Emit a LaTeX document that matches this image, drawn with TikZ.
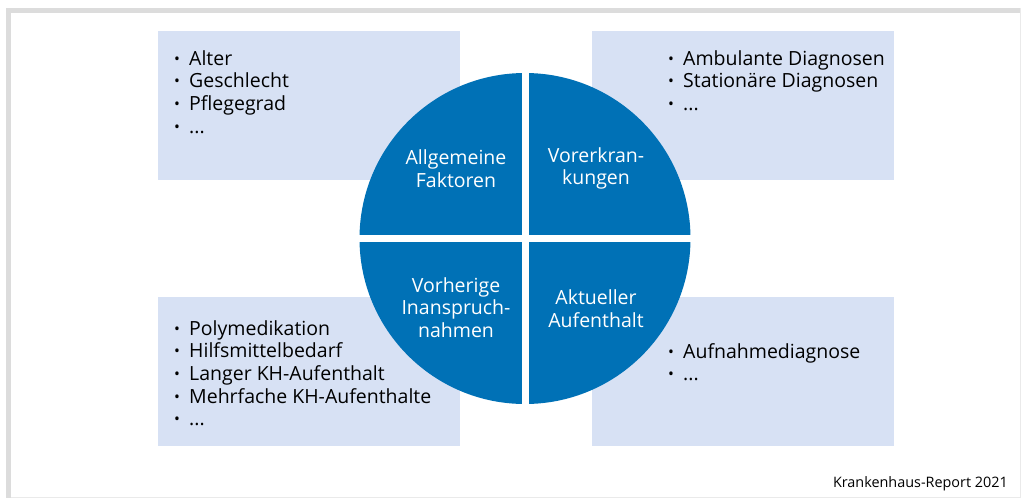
\documentclass[tikz,border=0pt]{standalone}
\usepackage{fontspec}
\setmainfont{Open Sans}
\usetikzlibrary{positioning}

\definecolor{kreisblau}{HTML}{0071B6}
\definecolor{kastenblau}{HTML}{D7E1F4}
\definecolor{rahmengrau}{HTML}{DCDCDC}

\tikzset{
  kasten/.style={fill=kastenblau, minimum width=302pt, minimum height=149pt,
                 anchor=north west, inner sep=0pt},
  liste/.style={align=left, anchor=north west, inner sep=0pt,
                font=\fontsize{19.5}{22.7}\selectfont},
  feld/.style={align=center, text=white, inner sep=0pt,
               font=\fontsize{19.5}{22.5}\selectfont},
}
\newcommand{\pkt}[1]{\makebox[15pt][l]{\raisebox{1pt}{\scalebox{0.8}{\textbullet}}}#1}

\begin{document}
\begin{tikzpicture}[x=1pt, y=-1pt]
  \useasboundingbox (0,0) rectangle (1022,499);

  % rahmen
  \draw[rahmengrau!60, line width=1pt] (6,8) rectangle (1020,497.5);
  \fill[rahmengrau] (6,8) rectangle (1020,13);
  \fill[rahmengrau] (6,8) rectangle (11,497.5);

  % kaesten
  \node[kasten] (allg) at (158,31) {};
  \node[kasten] (vor)  at (592,31) {};
  \node[kasten] (inan) at (158,297) {};
  \node[kasten] (akt)  at (592,297) {};

  \node[liste, below right=19pt and 16pt of allg.north west] (allgliste)
       {\pkt{Alter}\\ \pkt{Geschlecht}\\ \pkt{Pflegegrad}\\ \pkt{...}};
  \node[liste, below right=19pt and 76pt of vor.north west] (vorliste)
       {\pkt{Ambulante Diagnosen}\\ \pkt{Stationäre Diagnosen}\\ \pkt{...}};
  \node[liste, below right=23pt and 16pt of inan.north west] (inanliste)
       {\pkt{Polymedikation}\\ \pkt{Hilfsmittelbedarf}\\ \pkt{Langer KH-Aufenthalt}\\
        \pkt{Mehrfache KH-Aufenthalte}\\ \pkt{...}};
  \node[liste, below right=46pt and 76pt of akt.north west] (aktliste)
       {\pkt{Aufnahmediagnose}\\ \pkt{...}};

  % kreis mit vier feldern
  \coordinate (mitte) at (525,238.5);
  \fill[kreisblau] (mitte) circle[radius=165.5];
  \draw[white, line width=7pt] ([yshift=-170pt]mitte) -- ([yshift=170pt]mitte);
  \draw[white, line width=7pt] ([xshift=-170pt]mitte) -- ([xshift=170pt]mitte);

  \node[feld] (allgfeld) at ([shift={(-69,-70)}]mitte) {Allgemeine\\Faktoren};
  \node[feld] (vorfeld)  at ([shift={(71,-70)}]mitte) {Vorerkran-\\kungen};
  \node[feld] (inanfeld) at ([shift={(-69,69)}]mitte) {Vorherige\\Inanspruch-\\nahmen};
  \node[feld] (aktfeld)  at ([shift={(71,70)}]mitte) {Aktueller\\Aufenthalt};

  \node[anchor=base east, inner sep=0pt, font=\fontsize{14.4}{16}\selectfont]
       (quelle) at (1008,487) {Krankenhaus-Report 2021};
\end{tikzpicture}
\end{document}
